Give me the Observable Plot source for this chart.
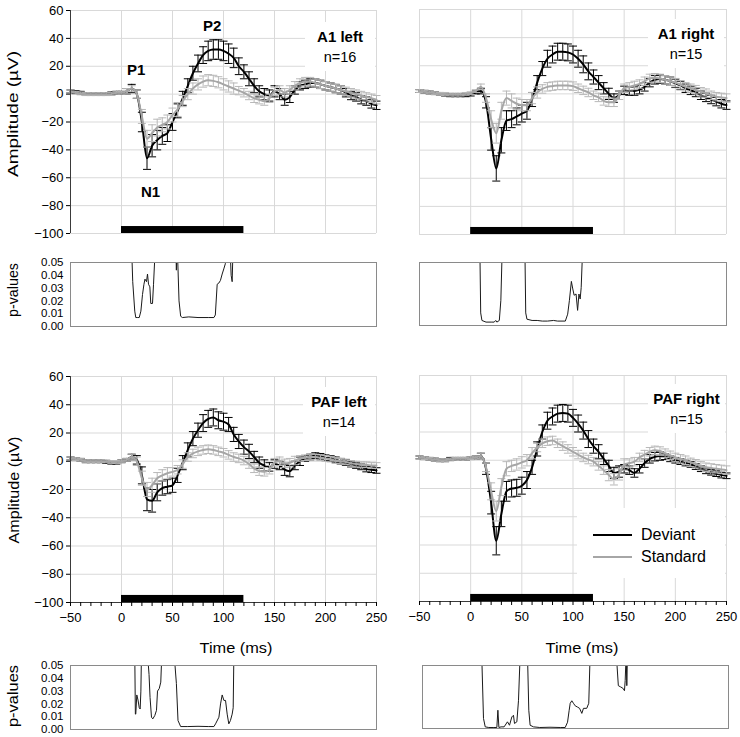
<!DOCTYPE html>
<html><head><meta charset="utf-8">
<script src="https://cdn.jsdelivr.net/npm/d3@7"></script>
<script src="https://cdn.jsdelivr.net/npm/@observablehq/plot@0.6"></script>
<style>
body{margin:0;background:#fff;font-family:"Liberation Sans",Arial,sans-serif;}
#fig{position:relative;width:740px;height:737px;overflow:hidden;background:#fff;}
.lab{position:absolute;background:#fff;text-align:center;color:#000;line-height:21px;padding-top:4px;}
.lab b{font-size:15px;display:block;}
.lab span{font-size:14.5px;display:block;}
.leg{position:absolute;background:#fff;}
.leg .row{position:absolute;left:0;height:22px;font-size:16px;line-height:22px;color:#000;}
.leg .sw{position:absolute;left:16px;top:10px;width:39px;height:0;border-top-style:solid;}
.leg .tx{position:absolute;left:64px;top:0;white-space:nowrap;}
</style></head><body><div id="fig"></div>
<script>
// ---------- data ----------
const times = [-50,-45,-40,-35,-30,-25,-20,-15,-10,-5,0,5,10,15,20,25,30,35,40,45,50,55,60,65,70,75,80,85,90,95,100,105,110,115,120,125,130,135,140,145,150,155,160,165,170,175,180,185,190,195,200,205,210,215,220,225,230,235,240,245,250];

// A1 left
const devA1L = [2,1.5,1,0,0,0,0,0,0.5,1,1, 2,4,0,-20,-46,-37,-33,-30,-28,-20, -12,-3,6,15,22,28,31,32,32,31, 29,26,20,16,11,6,2,0,-1,2, 0,-4,-2,3,6,7,8,8,7,6, 5,4,3,1,-1,-2,-4,-5,-7,-8];
const semDevA1L = [1,1,1,1,1,1,1,1,1,1,1, 2,3,3,7,8,8,7,6,6,6, 5,5,5,5,6,6,7,7,7,7, 7,7,6,5,5,5,4,4,4,4, 4,4,4,3,3,3,3,3,3,3, 3,3,3,3,3,3,3,3,3,3];
const stdA1L = [2,1,0.5,0,0,0,0,0,0,1,1, 2,4,0,-16,-32,-28,-24,-22,-20,-15, -11,-5,0,4,7,9,10,9.5,8.5,7, 5.5,4,2.5,1,-1,-3,-4,-5,-3,2, 3,1,3,6,8,9,9,8,7,6, 5,4,3,2,1,0,-1,-2,-3,-4];
const semStdA1L = [1,1,1,1,1,1,1,1,1,1,1, 2,2,3,5,6,6,6,5,5,5, 5,4,4,4,4,4,4,4,4,4, 4,4,3,3,3,3,3,3,3,3, 3,3,3,3,3,3,3,3,3,3, 3,3,3,3,3,3,3,3,3,3];

// A1 right
const devA1R = [2,1.5,1,0.5,0,-0.5,-1,-1,-1,-1,-0.5, 1,2,-6,-32,-53,-33,-19,-18,-16,-14, -12,-4,8,18,25,28,30,30,29.5,28, 25,21,16,12,8,4,0,-3,-1,2.5, 2,2,3,5,8,10,10.5,10,9,7.5, 6,4,2.5,1,-1,-2.5,-4,-5.5,-7,-8];
const semDevA1R = [1,1,1,1,1,1,1,1,1,1,1, 1,2,4,8,9,9,7,6,6,6, 6,5,5,5,6,6,6,6,6,6, 6,6,6,5,5,4,4,3,3,3, 3,3,3,3,3,3,3,3,3,3, 3,3,3,3,3,3,3,3,3,3];
const stdA1R = [2,1.5,1,0.5,0,0,-0.5,-0.5,-0.5,0,0.5, 2,5,-3,-18,-28,-12,-3,-5,-7,-8, -8,-3,1,3.5,5,5.5,6,6,6,5.5, 4,2.5,1,-1,-2.5,-5,-6,-6,-1,4, 5,6,7,9,11,11.5,11,10,9,8, 6.5,5,4,3,1.5,0.5,-1,-2,-2.5,-3];
const semStdA1R = [1,1,1,1,1,1,1,1,1,1,1, 1,2,3,6,7,6,5,5,4,4, 4,4,4,3,3,3,3,3,3,3, 3,3,3,3,3,3,3,3,3,3, 3,3,3,3,3,3,3,3,3,3, 3,3,3,3,3,3,3,3,3,3];

// PAF left
const devPL = [2,1.5,1,0,0,0,0,-0.5,-1,-1,0, 1,3,1,-10,-27,-28,-22,-19,-18,-17, -10,-1,8,16,22,27,30,31,29,28, 26,19,14,10,7,3,-1,-3,-4,-2, -3,-6,-7,-3,0,2,3,4,3.5,2.5, 2,1,0,-1,-2,-3,-4,-5.5,-6,-6.5];
const semDevPL = [1,1,1,1,1,1,1,1,1,1,1, 1,2,3,6,8,8,6,5,5,5, 5,5,5,5,5,6,6,6,6,6, 5,5,5,5,5,4,4,4,3,3, 3,4,4,3,3,2,2,2,2,2, 2,2,2,2,2,2,2,2,2,2];
const stdPL = [2,1.5,1,0,0,0,0,0,-0.5,-0.5,0, 1,3,0,-12,-20,-17,-12,-10,-8.5,-7.5, -6,-2,3,5.5,7,8,8.5,8,7,6, 4.5,3,2,0.5,-2,-5,-7,-7.5,-6,-1, 0,-1.5,-1,0.5,2,2.5,3,3,2.5,2, 1.5,0.5,0,-0.5,-1.5,-2,-2.5,-2.5,-3,-3];
const semStdPL = [1,1,1,1,1,1,1,1,1,1,1, 1,2,3,5,5,5,4,4,4,3, 3,3,3,3,3,3,3,3,3,3, 3,3,3,3,3,3,3,3,3,3, 3,3,3,3,2,2,2,2,2,2, 2,2,2,2,2,2,2,2,2,2];

// PAF right
const devPR = [2,1.5,1,0.5,0,0,1,1,1,1,1.5, 2,3,-6,-30,-57,-38,-22,-20,-19.5,-18, -14,-5,8,20,28,31,33,33.5,33,30, 26,21,15,10,6,1,-4,-9,-8,-6, -7,-9,-6,-2,1,2.5,3,2.5,1,0, -1,-2,-3,-4.5,-6,-7.5,-8.5,-9.5,-10.5,-11];
const semDevPR = [1,1,1,1,1,1,1,1,1,1,1, 1,2,4,8,10,9,7,6,6,6, 6,5,5,5,6,6,6,6,6,6, 6,6,6,5,5,4,4,4,4,3, 3,3,3,3,3,3,3,2,2,2, 2,2,2,2,2,2,2,2,2,2];
const stdPR = [2,1.5,1,0.5,0,0,0.5,1,1,1,1.5, 2,3,-5,-22,-36,-19,-6,-4,-3,-1.5, 0,5,9,12,13.5,14,12,10,8,6, 4,2,0.5,-1,-4,-7,-10.5,-13.5,-10,-3, -2,-1,2,4,6,7,6.5,5,3.5,2, 1,0,-1.5,-2.5,-4,-5,-5.5,-6,-6.5,-7];
const semStdPR = [1,1,1,1,1,1,1,1,1,1,1, 1,2,3,6,7,6,5,4,4,4, 4,4,3,3,3,3,3,3,3,3, 3,3,3,3,3,3,4,4,4,4, 3,3,3,3,3,3,3,3,3,3, 3,3,3,3,3,3,3,3,3,3];

// p-values (values above 0.05 leave the panel)
const pTimeA1L = [10,11,13,14,16,17.4,19,20.6,22,23,24.5,25.5,26.5,27.8,28.7,30.4,31.4,33, 53.3,53.8,54.3,54.8,56.4,58,59.7,66,75,85,90.6,92,93.8,95.5,97,98.7,100.3,101.8,103.2, 106.5,107.5,108.5,109.3];
const pValA1L  = [0.06,0.035,0.012,0.007,0.007,0.007,0.012,0.025,0.033,0.037,0.035,0.041,0.033,0.031,0.018,0.018,0.033,0.06, 0.06,0.044,0.06,0.06,0.02,0.008,0.007,0.0075,0.007,0.007,0.007,0.009,0.033,0.034,0.036,0.041,0.045,0.049,0.06, 0.06,0.04,0.035,0.06];
const pTimeA1R = [9,9.8,11,15,20,23,24.5,25.6,28,29.5,30.8, 53,53.8,55,60,65,70,75,81,85,92.5,94.8,96.5,98.4,99.8,101.1,103,104.5,105.8,107,108,109.4];
const pValA1R  = [0.06,0.01,0.004,0.0027,0.0027,0.0027,0.004,0.0027,0.004,0.02,0.06, 0.06,0.01,0.005,0.004,0.004,0.0035,0.0035,0.004,0.0035,0.0035,0.009,0.02,0.035,0.029,0.024,0.025,0.012,0.025,0.021,0.03,0.06];
const pTimePL  = [13,13.6,14,15,16.2,17.4,18.3,19,19.6, 25.4,27,28,29.4,30.7,32.7,34.3,35.3,37,38.5,39.6, 51.5,53.8,55.4,58,65,75,85,90.6,92.2,95.5,97.1,98.7,100.4,102,103.6,105.2,106.8,108.5,109.5,110.2];
const pValPL   = [0.06,0.012,0.012,0.027,0.023,0.017,0.016,0.03,0.06, 0.06,0.043,0.025,0.0096,0.0083,0.011,0.015,0.03,0.032,0.037,0.06, 0.06,0.036,0.007,0.0023,0.0023,0.0025,0.0023,0.0023,0.0044,0.0096,0.02,0.027,0.0227,0.0227,0.012,0.0044,0.007,0.012,0.017,0.06];
const pTimePR  = [8,9.8,11.5,15,20,22.9,23.9,24.9,27,30,33.3,35.3,37.6,39.2,40.2,42.5,44.1,45.8, 52.9,54.2,55.5,58.8,65,75,85,89.9,92.2,93.8,94.8,96.4,98,99.7,102,104,106.2,107.8,111,113,114.4, 139.9,142,144.2,146.4,148,148.7,149.7,150.3,151];
const pValPR   = [0.06,0.008,0.0013,0.0008,0.0008,0.0008,0.0145,0.0008,0.0013,0.0013,0.0053,0.0026,0.0092,0.0105,0.004,0.0053,0.022,0.06, 0.06,0.0145,0.0026,0.0013,0.0008,0.001,0.0008,0.0008,0.005,0.0145,0.02,0.022,0.02,0.018,0.017,0.016,0.012,0.016,0.016,0.02,0.06, 0.06,0.034,0.033,0.032,0.03,0.038,0.06,0.034,0.06];

// stimulus bar, ticks, labels
const stimStart = [0], stimEnd = [120];
const xTicks = [-50,0,50,100,150,200,250];
const xMinor = [-50,-40,-30,-20,-10,0,10,20,30,40,50,60,70,80,90,100,110,120,130,140,150,160,170,180,190,200,210,220,230,240,250];
const yTicks = [-100,-80,-60,-40,-20,0,20,40,60];
const pTicks = [0,0.01,0.02,0.03,0.04,0.05];
const peakNames = ["P1","P2","N1"];
const peakTimes = [14.5,89,28.5];
const peakAmps  = [17,49,-70.5];
const seriesNames = ["Deviant","Standard"];

// ---------- drawing ----------
const FONT = '"Liberation Sans", Arial, sans-serif';
const GRID = "#d9d9d9", AXIS = "#3a3a3a";
const DEVC = "#000000", STDC = "#a6a6a6", STDBAR = "#b8b8b8";
const fig = document.getElementById("fig");
const stimulus = stimStart.map((s,i)=>({start:s, end:stimEnd[i]}));
const rows = (m,s) => times.map((t,i)=>({t, m:m[i], s:s[i]}));
const hbar = {draw(ctx, size){ const r = Math.sqrt(size/Math.PI); ctx.moveTo(-r,0); ctx.lineTo(r,0); }};

function errMarks(data, color){
  return [
    Plot.ruleX(data, {x:"t", y1:d=>d.m-d.s, y2:d=>d.m+d.s, stroke:color, strokeWidth:1}),
    Plot.dot(data, {x:"t", y:d=>d.m-d.s, symbol:hbar, r:4, stroke:color, fill:"none", strokeWidth:1}),
    Plot.dot(data, {x:"t", y:d=>d.m+d.s, symbol:hbar, r:4, stroke:color, fill:"none", strokeWidth:1})
  ];
}

function place(el, left, top){
  el.style.position = "absolute"; el.style.left = left+"px"; el.style.top = top+"px";
  fig.appendChild(el);
}

function mainPanel(o){
  const D = rows(o.dev, o.devS), S = rows(o.std, o.stdS);
  const marks = [
    Plot.ruleX(xTicks, {stroke:GRID}),
    Plot.ruleY(yTicks, {stroke:GRID}),
    Plot.rect(stimulus, {x1:"start", x2:"end", y1:-100, y2:-95, fill:"#000"}),
    ...errMarks(D, DEVC),
    Plot.line(D, {x:"t", y:"m", stroke:DEVC, strokeWidth:2, curve:"monotone-x"}),
    ...errMarks(S, STDBAR),
    Plot.line(S, {x:"t", y:"m", stroke:STDC, strokeWidth:2, curve:"monotone-x"})
  ];
  if (o.left) {
    marks.push(Plot.ruleX([-50], {stroke:AXIS}));
    marks.push(Plot.axisY({ticks:yTicks, tickSize:4, tickPadding:3, fontSize:13, label:null}));
  }
  if (o.bottom) {
    marks.push(Plot.ruleY([-100], {stroke:AXIS}));
    marks.push(Plot.axisX({ticks:xMinor, tickSize:4, tickFormat:()=>"", label:null}));
    marks.push(Plot.axisX({ticks:xTicks, tickSize:0, tickPadding:10, fontSize:13, label:null}));
  }
  if (o.peaks) {
    marks.push(Plot.text(peakNames.map((n,i)=>({n, t:peakTimes[i], v:peakAmps[i]})),
      {x:"t", y:"v", text:"n", fontWeight:"bold", fontSize:15}));
  }
  const el = Plot.plot({
    width:o.w, height:o.h, marginLeft:o.mL, marginRight:o.mR, marginTop:o.mT, marginBottom:o.mB,
    x:{domain:[-50,250], ...(o.bottom?{}:{axis:null})},
    y:{domain:[-100,60], ...(o.left?{}:{axis:null})},
    style:{fontFamily:FONT, fontSize:"13px", background:"transparent", overflow:"visible", color:"#000"},
    marks
  });
  place(el, o.x, o.y);
}

function pPanel(o){
  const P = o.t.map((t,i)=>({t, p:o.p[i]}));
  const marks = [
    Plot.line(P, {x:"t", y:"p", stroke:"#1a1a1a", strokeWidth:1, clip:true}),
    Plot.frame({stroke:"#8a8a8a"})
  ];
  if (o.left) marks.push(Plot.axisY({ticks:pTicks, tickSize:0, tickPadding:7, fontSize:11.5, tickFormat:d3.format(".2f"), label:null}));
  const el = Plot.plot({
    width:o.w, height:o.h, marginLeft:o.mL, marginRight:o.mR, marginTop:o.mT, marginBottom:o.mB,
    x:{domain:[-50,250], axis:null},
    y:{domain:[0,0.05], ...(o.left?{}:{axis:null})},
    style:{fontFamily:FONT, fontSize:"11.5px", background:"transparent", overflow:"visible", color:"#000"},
    marks
  });
  place(el, o.x, o.y);
}

mainPanel({dev:devA1L, devS:semDevA1L, std:stdA1L, stdS:semStdA1L, x:0, y:0, w:380, h:245, mL:70, mR:4, mT:10, mB:12, left:true, bottom:false, peaks:true});
mainPanel({dev:devA1R, devS:semDevA1R, std:stdA1R, stdS:semStdA1R, x:380, y:0, w:360, h:245, mL:39, mR:14, mT:9, mB:11, left:false, bottom:false});
mainPanel({dev:devPL, devS:semDevPL, std:stdPL, stdS:semStdPL, x:0, y:360, w:380, h:300, mL:70, mR:4, mT:16, mB:58, left:true, bottom:true});
mainPanel({dev:devPR, devS:semDevPR, std:stdPR, stdS:semStdPR, x:380, y:360, w:360, h:300, mL:39, mR:14, mT:15, mB:59, left:false, bottom:true});

pPanel({t:pTimeA1L, p:pValA1L, x:0, y:255, w:380, h:80, mL:70, mR:4, mT:7, mB:9, left:true});
pPanel({t:pTimeA1R, p:pValA1R, x:380, y:255, w:360, h:80, mL:39, mR:14, mT:7, mB:10, left:false});
pPanel({t:pTimePL, p:pValPL, x:0, y:658, w:380, h:79, mL:70, mR:4, mT:7, mB:8, left:true});
pPanel({t:pTimePR, p:pValPR, x:380, y:658, w:360, h:79, mL:42, mR:12, mT:7, mB:9, left:false});

// panel labels
const panelLabels = [
  {name:"A1 left", n:"n=16", left:305, top:22, width:70},
  {name:"A1 right", n:"n=15", left:648, top:19, width:76},
  {name:"PAF left", n:"n=14", left:303, top:387, width:72},
  {name:"PAF right", n:"n=15", left:648, top:384, width:77}
];
for (const L of panelLabels) {
  const d = document.createElement("div");
  d.className = "lab";
  d.style.left = L.left+"px"; d.style.top = L.top+"px"; d.style.width = L.width+"px"; d.style.height = "45px";
  d.innerHTML = `<b>${L.name}</b><span>${L.n}</span>`;
  fig.appendChild(d);
}

// legend
const leg = document.createElement("div");
leg.className = "leg";
leg.style.left = "577px"; leg.style.top = "508px"; leg.style.width = "148px"; leg.style.height = "70px";
[DEVC, STDC].forEach((c,i)=>{
  const r = document.createElement("div");
  r.className = "row"; r.style.top = (16 + i*22)+"px"; r.style.width = "148px";
  r.innerHTML = `<div class="sw" style="border-top-width:2.5px;border-top-color:${c}"></div><div class="tx">${seriesNames[i]}</div>`;
  leg.appendChild(r);
});
fig.appendChild(leg);

// axis titles
const ov = d3.select(fig).append("svg").attr("width",740).attr("height",737)
  .style("position","absolute").style("left","0px").style("top","0px").style("pointer-events","none")
  .style("font-family", FONT);
function title(x, y, text, len, size, rot){
  ov.append("text").attr("transform", `translate(${x},${y})` + (rot?" rotate(-90)":""))
    .attr("text-anchor","middle").attr("dominant-baseline","central")
    .attr("font-size", size).attr("textLength", len).attr("lengthAdjust","spacingAndGlyphs")
    .attr("fill","#000").text(text);
}
title(12, 114, "Amplitude (µV)", 126, 15, true);
title(13, 490, "Amplitude (µV)", 107, 15, true);
title(13, 290, "p-values", 54, 14.5, true);
title(13, 696, "p-values", 62, 14.5, true);
title(236, 647, "Time (ms)", 73, 15, false);
title(582, 647, "Time (ms)", 73, 15, false);
</script></body></html>
